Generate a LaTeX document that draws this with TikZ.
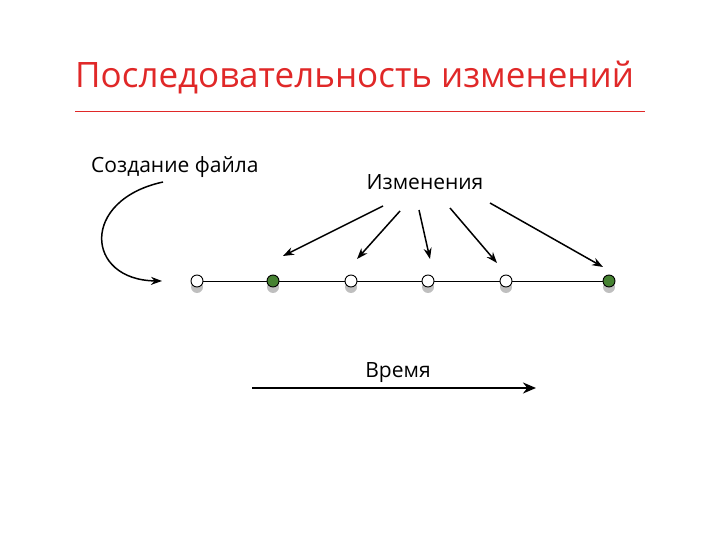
\documentclass[tikz,border=0pt]{standalone}
\usepackage{fontspec}
\setmainfont{Open Sans}
\usetikzlibrary{arrows.meta,shadows}
\definecolor{tred}{RGB}{224,40,40}
\definecolor{dgreen}{RGB}{70,130,50}
\begin{document}
\begin{tikzpicture}[x=1pt,y=-1pt,
  dot/.style={circle,draw=black,line width=0.9pt,inner sep=0pt,minimum size=12pt,fill=white,
    drop shadow={shadow xshift=0pt,shadow yshift=-6pt,fill=gray,opacity=0.5}},
  gdot/.style={dot,fill=dgreen},
  arr/.style={-{Stealth[length=11pt,width=8pt]},line width=1.5pt},
  lbl/.style={font=\fontsize{21}{25}\selectfont,inner sep=0pt}]
\useasboundingbox (0,0) rectangle (720,540);
\node[text=tred,font=\fontsize{35}{42}\selectfont,inner sep=0pt,anchor=west] (title) at (75,78) {Последовательность изменений};
\coordinate (la) at (75,111); \coordinate (lb) at (645,111);
\draw[tred,line width=0.8pt] (la) -- (lb);
\node[lbl,anchor=west] (create) at (91,167) {Создание файла};
\node[lbl] (chg) at (425,182) {Изменения};
\node[lbl] (time) at (398,373) {Время};
\foreach \n/\x in {d1/197,d3/351,d4/428,d5/506}{\node[dot] (\n) at (\x,281) {};}
\foreach \n/\x in {d2/273,d6/609}{\node[gdot] (\n) at (\x,281) {};}
\draw[line width=0.6pt] (d1)--(d2)--(d3)--(d4)--(d5)--(d6);
\coordinate (c0) at (163,182); \coordinate (c1) at (162,281);
\draw[arr] (c0) .. controls (80,200) and (85,280) .. (c1);
\coordinate (a1) at (383,206); \coordinate (b1) at (283,256);
\coordinate (a2) at (400,211); \coordinate (b2) at (357,259);
\coordinate (a3) at (419,210); \coordinate (b3) at (430,259);
\coordinate (a4) at (450,208); \coordinate (b4) at (497,263);
\coordinate (a5) at (490,203); \coordinate (b5) at (603,267);
\foreach \i in {1,...,5}{\draw[arr] (a\i) -- (b\i);}
\coordinate (t0) at (252,388); \coordinate (t1) at (536,388);
\draw[-{Stealth[length=13pt,width=11pt]},line width=2.4pt] (t0) -- (t1);
\end{tikzpicture}
\end{document}
